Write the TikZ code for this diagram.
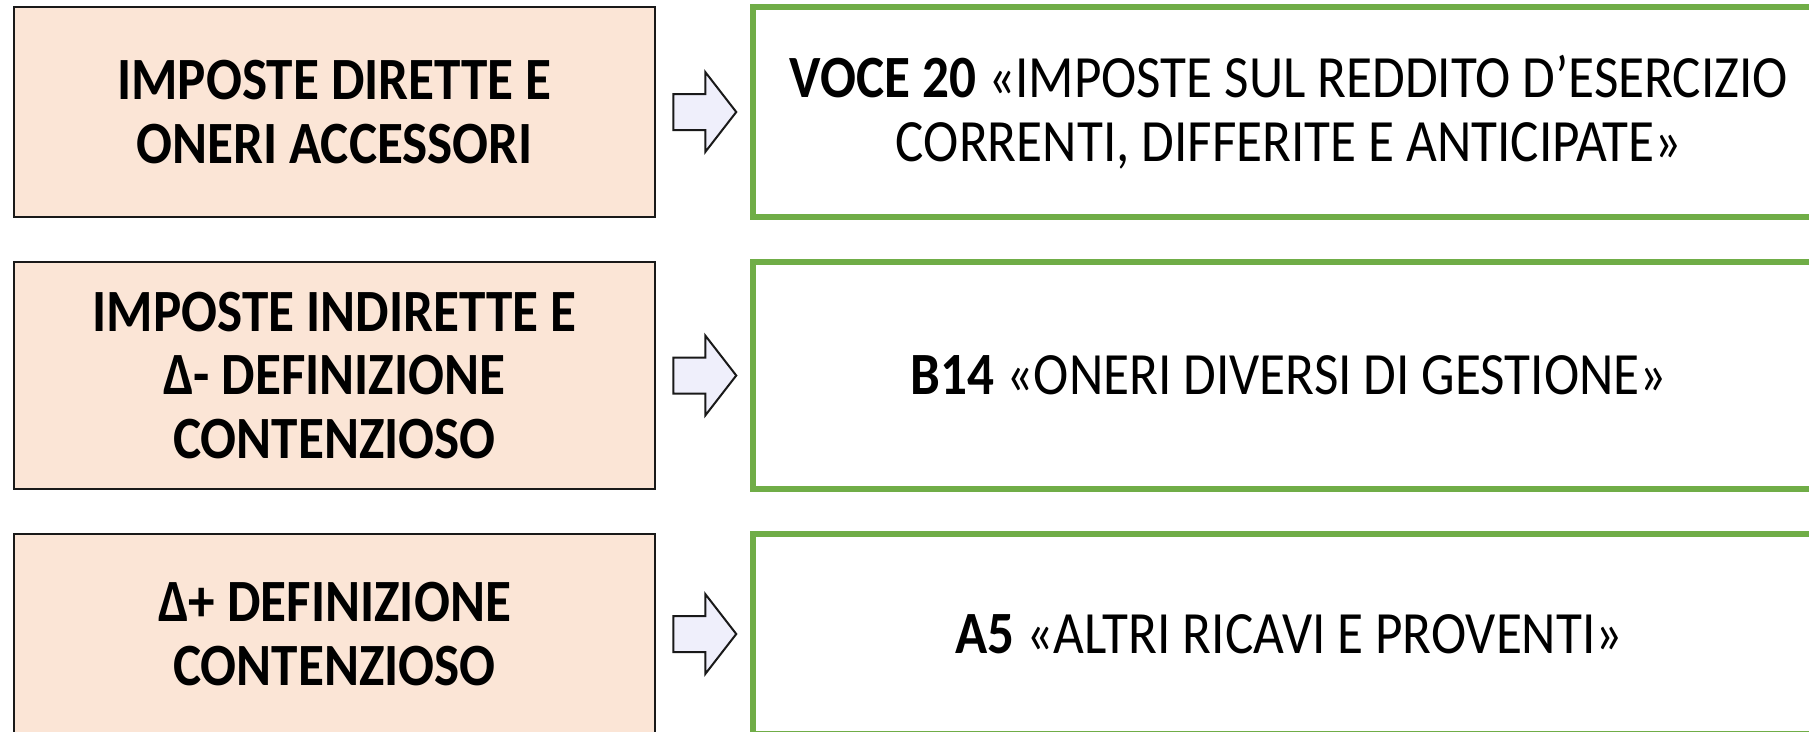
\documentclass[tikz,border=0pt]{standalone}
\usepackage{fontspec}
\setmainfont{Carlito}[FakeStretch=0.886]
\usetikzlibrary{calc}
\definecolor{peach}{HTML}{FBE5D6}
\definecolor{leafgreen}{HTML}{70AD47}
\definecolor{lavender}{HTML}{EFEFFB}
\begin{document}
\begin{tikzpicture}[x=1pt,y=-1pt,
  srcbox/.style={draw=black!90, line width=2.5pt, fill=peach, minimum width=641pt,
    align=center, inner sep=0pt, font=\fontsize{60}{63.5}\selectfont\bfseries},
  dstbox/.style={draw=leafgreen, line width=5.5pt, fill=white, minimum width=1072pt,
    align=center, inner sep=0pt, font=\fontsize{60}{63.5}\selectfont},
  blockarrow/.pic={
    \draw[draw=black!90, line width=2pt, fill=lavender, line join=miter]
      (-30,-18) -- (2,-18) -- (2,-40) -- (33,0) -- (2,40) -- (2,18) -- (-30,18) -- cycle;
  }]
\useasboundingbox (0,0) rectangle (1809,731);

% left column: sources
\node[srcbox, minimum height=210pt] (s1) at (334.5,112)
  {IMPOSTE DIRETTE E\\ONERI ACCESSORI};
\node[srcbox, minimum height=227pt] (s2) at (334.5,375.5)
  {IMPOSTE INDIRETTE E\\Δ- DEFINIZIONE\\CONTENZIOSO};
\node[srcbox, minimum height=200pt] (s3) at (334.5,634)
  {Δ+ DEFINIZIONE\\CONTENZIOSO};

% right column: income statement items
\node[dstbox, minimum height=210pt] (d1) at (1289,112)
  {\textbf{VOCE 20} «IMPOSTE SUL REDDITO D’ESERCIZIO\\CORRENTI, DIFFERITE E ANTICIPATE»};
\node[dstbox, minimum height=227pt] (d2) at (1289,375.5)
  {\textbf{B14} «ONERI DIVERSI DI GESTIONE»};
\node[dstbox, minimum height=200pt] (d3) at (1289,634)
  {\textbf{A5} «ALTRI RICAVI E PROVENTI»};

% block arrows between the columns
\pic at ($(s1.east)!0.5!(d1.west)$) {blockarrow};
\pic at ($(s2.east)!0.5!(d2.west)$) {blockarrow};
\pic at ($(s3.east)!0.5!(d3.west)$) {blockarrow};
\end{tikzpicture}
\end{document}
